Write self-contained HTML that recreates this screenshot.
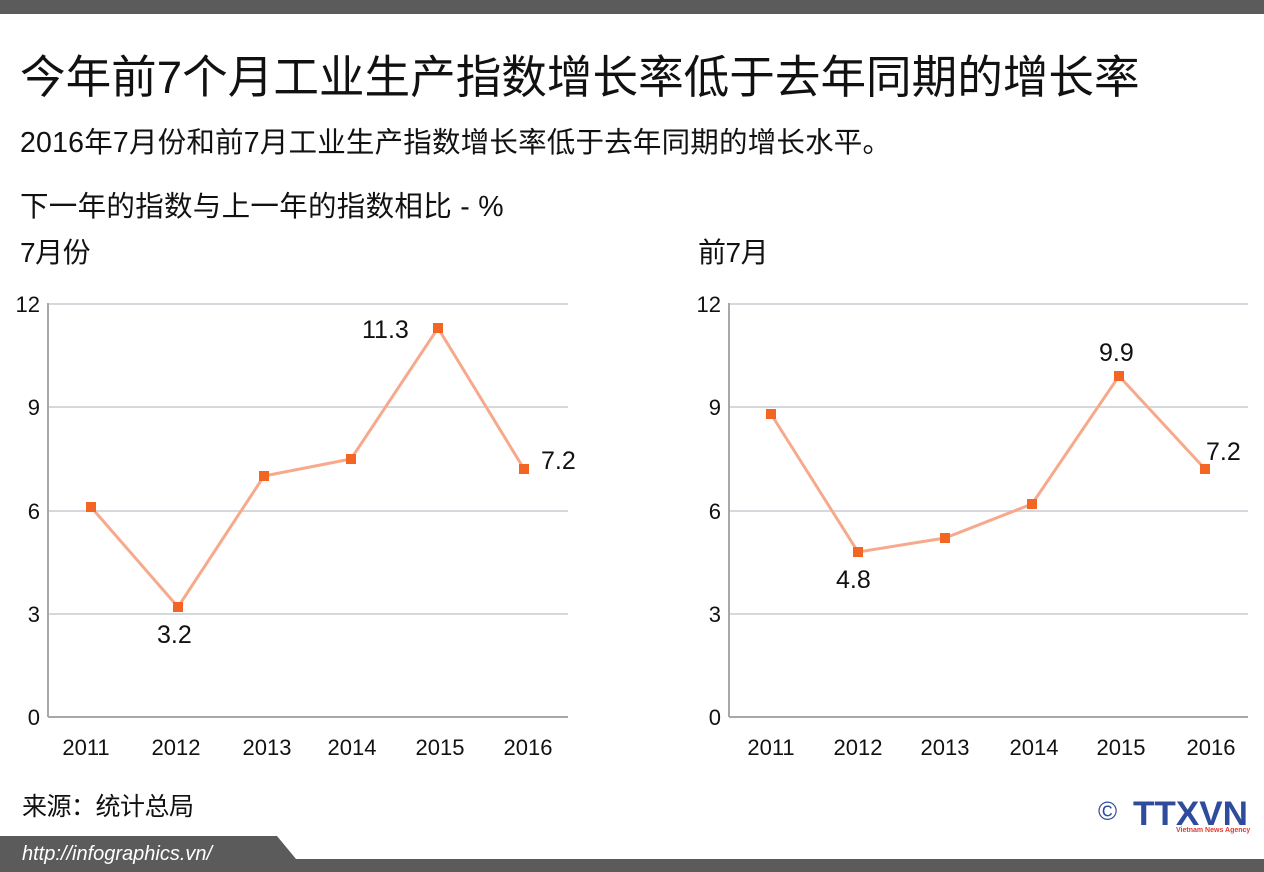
<!DOCTYPE html>
<html><head><meta charset="utf-8"><style>
body{margin:0;width:1264px;height:872px;background:#fff;position:relative;overflow:hidden;font-family:"Liberation Sans","Noto Sans CJK SC",sans-serif;color:#111}
.t{position:absolute;white-space:nowrap}
</style></head><body>
<div style="position:absolute;left:0;top:0;width:1264px;height:14px;background:#5b5b5b"></div>
<div class="t" style="left:20px;top:49px;font-size:45.6px;line-height:58px">今年前7个月工业生产指数增长率低于去年同期的增长率</div>
<div class="t" style="left:20px;top:126px;font-size:28.5px;line-height:34px;letter-spacing:0.2px">2016年7月份和前7月工业生产指数增长率低于去年同期的增长水平。</div>
<div class="t" style="left:20px;top:190px;font-size:28.5px;line-height:34px;letter-spacing:0.3px">下一年的指数与上一年的指数相比 - %</div>
<div class="t" style="left:20px;top:236px;font-size:28px;line-height:34px;letter-spacing:-0.5px">7月份</div>
<div class="t" style="left:698px;top:236px;font-size:28px;line-height:34px;letter-spacing:-0.5px">前7月</div>
<svg width="1264" height="872" style="position:absolute;left:0;top:0" font-family="Liberation Sans, sans-serif">
<g stroke="#d5d9dd" stroke-width="2">
<line x1="48" x2="568" y1="304" y2="304"/><line x1="48" x2="568" y1="407" y2="407"/><line x1="48" x2="568" y1="511" y2="511"/><line x1="48" x2="568" y1="614" y2="614"/>
<line x1="729" x2="1248" y1="304" y2="304"/><line x1="729" x2="1248" y1="407" y2="407"/><line x1="729" x2="1248" y1="511" y2="511"/><line x1="729" x2="1248" y1="614" y2="614"/>
</g>
<g stroke="#a8a8a8" stroke-width="2">
<line x1="48" x2="48" y1="303" y2="717"/><line x1="48" x2="568" y1="717" y2="717"/>
<line x1="729" x2="729" y1="303" y2="717"/><line x1="729" x2="1248" y1="717" y2="717"/>
</g>
<g font-size="22" text-anchor="end" fill="#111">
<text x="40" y="312">12</text><text x="40" y="415">9</text><text x="40" y="519">6</text><text x="40" y="622">3</text><text x="40" y="725">0</text>
<text x="721" y="312">12</text><text x="721" y="415">9</text><text x="721" y="519">6</text><text x="721" y="622">3</text><text x="721" y="725">0</text>
</g>
<g font-size="22" text-anchor="middle" fill="#111">
<text x="86" y="755">2011</text><text x="176" y="755">2012</text><text x="267" y="755">2013</text><text x="352" y="755">2014</text><text x="440" y="755">2015</text><text x="528" y="755">2016</text>
<text x="771" y="755">2011</text><text x="858" y="755">2012</text><text x="945" y="755">2013</text><text x="1034" y="755">2014</text><text x="1121" y="755">2015</text><text x="1211" y="755">2016</text>
</g>
<polyline fill="none" stroke="#f7a98c" stroke-width="3" points="91,507 178,607 264,476 351,459 438,328 524,469"/>
<polyline fill="none" stroke="#f7a98c" stroke-width="3" points="771,414 858,552 945,538 1032,504 1119,376 1205,469"/>
<g fill="#f26522">
<rect x="86" y="502" width="10" height="10"/><rect x="173" y="602" width="10" height="10"/><rect x="259" y="471" width="10" height="10"/><rect x="346" y="454" width="10" height="10"/><rect x="433" y="323" width="10" height="10"/><rect x="519" y="464" width="10" height="10"/>
<rect x="766" y="409" width="10" height="10"/><rect x="853" y="547" width="10" height="10"/><rect x="940" y="533" width="10" height="10"/><rect x="1027" y="499" width="10" height="10"/><rect x="1114" y="371" width="10" height="10"/><rect x="1200" y="464" width="10" height="10"/>
</g>
<g font-size="25" fill="#111">
<text x="362" y="338">11.3</text><text x="157" y="643">3.2</text><text x="541" y="469">7.2</text>
<text x="1099" y="361">9.9</text><text x="836" y="588">4.8</text><text x="1206" y="460">7.2</text>
</g>
<polygon points="0,836 277,836 296,859 1264,859 1264,872 0,872" fill="#5b5b5b"/>
<text x="1098" y="820" font-size="26" fill="#2f4c9c">©</text>
<text x="1133" y="825" font-size="34" font-weight="bold" fill="#2f4c9c" textLength="115" lengthAdjust="spacingAndGlyphs">TTXVN</text>
<text x="1176" y="832" font-size="7" font-weight="bold" fill="#e03a2f">Vietnam News Agency</text>
</svg>
<div class="t" style="left:22px;top:790px;font-size:25px;line-height:34px;letter-spacing:-0.5px">来源：统计总局</div>
<div class="t" style="left:22px;top:840px;font-size:20px;line-height:28px;color:#fff;font-style:italic">http://infographics.vn/</div>
</body></html>
